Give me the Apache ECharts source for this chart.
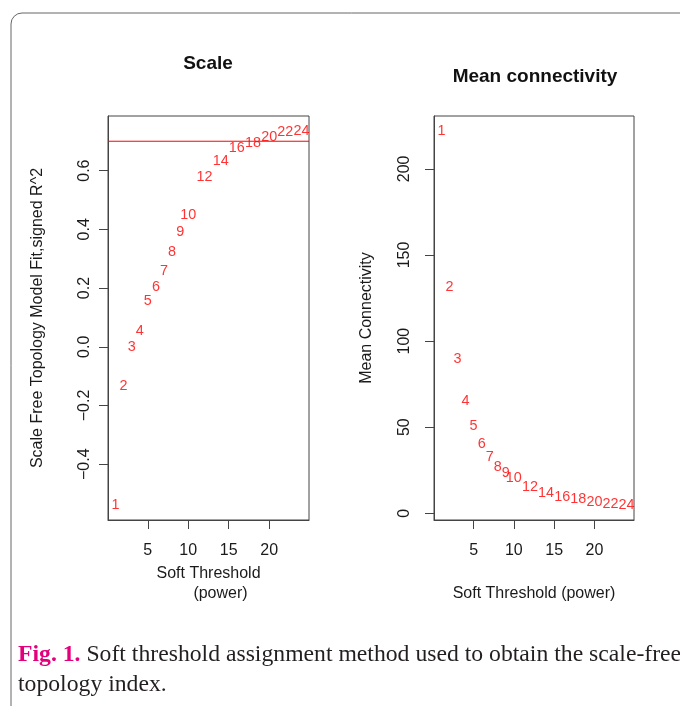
<!DOCTYPE html>
<html>
<head>
<meta charset="utf-8">
<script src="https://cdn.jsdelivr.net/npm/echarts@6/dist/echarts.min.js"></script>
<style>
  html, body { margin: 0; padding: 0; background: #fff; }
  #main { width: 680px; height: 706px; }
</style>
</head>
<body>
<div id="main"></div>
<script>
// soft threshold powers tried
var powers = [1, 2, 3, 4, 5, 6, 7, 8, 9, 10, 12, 14, 16, 18, 20, 22, 24];
// scale free topology fit (signed R^2)
var scaleFit = [-0.539, -0.133, -0.002, 0.054, 0.155, 0.202, 0.257, 0.323, 0.391, 0.448,
                0.578, 0.633, 0.678, 0.694, 0.714, 0.731, 0.735];
// mean connectivity
var meanConn = [222.0, 131.6, 89.6, 65.2, 50.7, 40.1, 32.9, 27.1, 23.2, 20.3,
                15.5, 12.0, 9.7, 8.3, 6.4, 5.2, 4.8];
var xTicks = [5, 10, 15, 20];
var fitTicks = [-0.4, -0.2, 0, 0.2, 0.4, 0.6];
var connTicks = [0, 50, 100, 150, 200];
var cutLine = 0.7;

var font = '"Liberation Sans", Arial, sans-serif';
var serif = '"Liberation Serif", "Times New Roman", serif';

// R pads the data range by 4% on each side
function rRange(arr){
    var lo = Math.min.apply(null, arr), hi = Math.max.apply(null, arr);
    var d = (hi - lo) * 0.04;
    return [lo - d, hi + d];
}
function pairs(xs, ys){
    var out = [];
    for (var i = 0; i < xs.length; i++) out.push([xs[i], ys[i]]);
    return out;
}
function minus(v){ return String(v).replace('-', '\u2212'); }

var xr = rRange(powers), fr = rRange(scaleFit), cr = rRange(meanConn);

function xAxisOpt(idx, name, gap){
    return {
        type: 'value', gridIndex: idx, min: xr[0], max: xr[1], position: 'bottom',
        name: name, nameLocation: 'middle', nameGap: gap,
        nameTextStyle: { fontFamily: font, fontSize: 16, color: '#1a1a1a', lineHeight: 20,
            rich: { p: { fontFamily: font, fontSize: 16, color: '#1a1a1a', padding: [0, 0, 0, 24] } } },
        axisLine: { show: true, onZero: false, lineStyle: { color: '#444', width: 1 } },
        axisTick: { show: true, inside: false, length: 9, lineStyle: { color: '#444' }, customValues: xTicks },
        axisLabel: { fontFamily: font, fontSize: 16, color: '#1a1a1a', margin: 23, customValues: xTicks },
        splitLine: { show: false }
    };
}
function yAxisOpt(idx, rng, ticks, name, gap, margin, fmt){
    return {
        type: 'value', gridIndex: idx, min: rng[0], max: rng[1], position: 'left',
        name: name, nameLocation: 'middle', nameGap: gap,
        nameTextStyle: { fontFamily: font, fontSize: 16, color: '#1a1a1a' },
        axisLine: { show: true, onZero: false, lineStyle: { color: '#444', width: 1 } },
        axisTick: { show: true, inside: false, length: 9, lineStyle: { color: '#444' }, customValues: ticks },
        axisLabel: { fontFamily: font, fontSize: 16, color: '#1a1a1a', rotate: 90, margin: margin,
            customValues: ticks, formatter: fmt },
        splitLine: { show: false }
    };
}
function labelSeries(idx, ys){
    return {
        type: 'scatter', xAxisIndex: idx, yAxisIndex: idx,
        data: pairs(powers, ys),
        symbolSize: 1,
        itemStyle: { color: 'rgba(255,255,255,0)' },
        label: { show: true, position: 'inside', color: '#ff0000', fontFamily: font, fontSize: 14.4,
            formatter: function(p){ return powers[p.dataIndex]; } }
    };
}

var chart = echarts.init(document.getElementById('main'));

var option = {
    animation: false,
    backgroundColor: '#fff',
    title: [
        { text: 'Scale', left: 208, top: 54, textAlign: 'center', padding: 0,
          textStyle: { fontFamily: font, fontSize: 19, fontWeight: 'bold', color: '#111' } },
        { text: 'Mean connectivity', left: 535, top: 67, textAlign: 'center', padding: 0,
          textStyle: { fontFamily: font, fontSize: 19, fontWeight: 'bold', color: '#111' } }
    ],
    grid: [
        { left: 108, top: 116, width: 201, height: 404, show: true, borderColor: '#444', borderWidth: 1, backgroundColor: 'transparent' },
        { left: 434, top: 116, width: 200, height: 404, show: true, borderColor: '#444', borderWidth: 1, backgroundColor: 'transparent' }
    ],
    xAxis: [
        xAxisOpt(0, 'Soft Threshold\n{p|(power)}', 44),
        xAxisOpt(1, 'Soft Threshold (power)', 64)
    ],
    yAxis: [
        yAxisOpt(0, fr, fitTicks, 'Scale Free Topology Model Fit,signed R^2', 62, 15,
            function(v){ return minus(v.toFixed(1)); }),
        yAxisOpt(1, cr, connTicks, 'Mean Connectivity', 59, 21,
            function(v){ return String(v); })
    ],
    series: [
        // horizontal cut-off line at R^2 = 0.7, spanning the padded x range
        {
            type: 'line', xAxisIndex: 0, yAxisIndex: 0, silent: true,
            data: [[xr[0], cutLine], [xr[1], cutLine]],
            symbol: 'none',
            lineStyle: { color: '#ff0000', width: 1, type: 'solid' },
            itemStyle: { color: '#ff0000' }
        },
        labelSeries(0, scaleFit),
        labelSeries(1, meanConn)
    ],
    graphic: [
        { type: 'rect', z: -10, silent: true,
          shape: { x: 11, y: 13, width: 720, height: 720, r: 11 },
          style: { fill: '#fff', stroke: '#666', lineWidth: 1 } },
        { type: 'text', left: 18, top: 640, silent: true,
          style: {
              text: '{a|Fig. 1.} Soft threshold assignment method used to obtain the scale-free\ntopology index.',
              fontFamily: serif, fontSize: 23.7, fill: '#231f20', lineHeight: 30,
              rich: { a: { fontFamily: serif, fontSize: 23.7, fontWeight: 'bold', fill: '#e4007c', color: '#e4007c', lineHeight: 30 } }
          } }
    ]
};
chart.setOption(option);
</script>
</body>
</html>
